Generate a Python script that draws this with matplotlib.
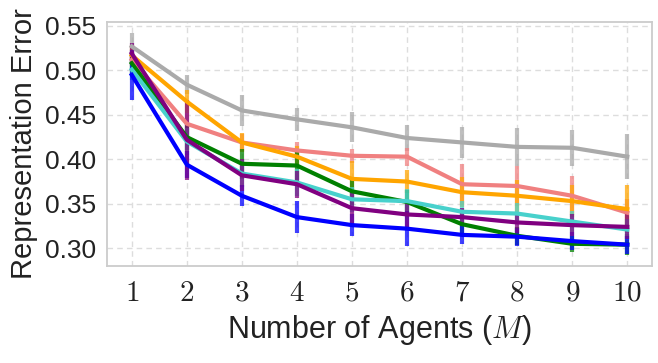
import matplotlib
matplotlib.use("Agg")
import matplotlib.pyplot as plt
import numpy as np

agents = [1, 2, 3, 4, 5, 6, 7, 8, 9, 10]

grey_mean = [0.527, 0.484, 0.455, 0.445, 0.436, 0.424, 0.419, 0.414, 0.413, 0.403]
grey_err = [0.015, 0.011, 0.017, 0.013, 0.017, 0.015, 0.017, 0.021, 0.020, 0.025]

salmon_mean = [0.512, 0.440, 0.419, 0.410, 0.404, 0.403, 0.372, 0.370, 0.359, 0.340]
salmon_err = [0.012, 0.012, 0.010, 0.010, 0.008, 0.010, 0.023, 0.022, 0.022, 0.015]

orange_mean = [0.517, 0.465, 0.419, 0.403, 0.378, 0.375, 0.363, 0.359, 0.353, 0.344]
orange_err = [0.012, 0.013, 0.011, 0.012, 0.020, 0.013, 0.017, 0.018, 0.018, 0.027]

green_mean = [0.508, 0.425, 0.395, 0.393, 0.364, 0.352, 0.327, 0.314, 0.305, 0.304]
green_err = [0.012, 0.015, 0.017, 0.016, 0.015, 0.014, 0.012, 0.010, 0.009, 0.012]

turq_mean = [0.501, 0.420, 0.384, 0.374, 0.355, 0.353, 0.341, 0.339, 0.330, 0.321]
turq_err = [0.012, 0.015, 0.015, 0.015, 0.014, 0.014, 0.012, 0.012, 0.012, 0.012]

purple_mean = [0.519, 0.422, 0.382, 0.372, 0.345, 0.338, 0.335, 0.329, 0.326, 0.324]
purple_err = [0.012, 0.045, 0.018, 0.015, 0.020, 0.014, 0.010, 0.012, 0.012, 0.014]

blue_mean = [0.495, 0.394, 0.359, 0.335, 0.326, 0.322, 0.315, 0.313, 0.308, 0.304]
blue_err = [0.028, 0.015, 0.012, 0.018, 0.012, 0.020, 0.010, 0.010, 0.010, 0.010]

series = [
    (grey_mean, grey_err, "#aaaaaa"),
    (salmon_mean, salmon_err, "#f08080"),
    (orange_mean, orange_err, "#ffa500"),
    (green_mean, green_err, "#008000"),
    (turq_mean, turq_err, "#48d1cc"),
    (blue_mean, blue_err, "#0000ff"),
    (purple_mean, purple_err, "#800080"),
]

plt.rcParams["mathtext.fontset"] = "cm"
plt.rcParams["font.family"] = ["Liberation Sans", "DejaVu Sans"]

fig = plt.figure(figsize=(6.58, 3.63), dpi=100)
ax = fig.add_axes([0.1626, 0.2672, 0.8284, 0.6722])

for mean, err, col in series:
    ax.errorbar(agents, mean, yerr=err, fmt="none", ecolor=col, elinewidth=3.0,
                alpha=0.75, capsize=0, zorder=2)
    ax.plot(agents, mean, color=col, lw=3.0, zorder=3)

ax.set_xlim(0.55, 10.45)
ax.set_ylim(0.28, 0.5545)
ax.set_xticks(agents)
ax.set_xticklabels([f"${a}$" for a in agents], fontsize=21, color="#222222")
yt = [0.30, 0.35, 0.40, 0.45, 0.50, 0.55]
ax.set_yticks(yt)
ax.set_yticklabels([f"{v:.2f}" for v in yt], fontsize=19, color="#222222")
ax.grid(True, ls=(0, (4, 3)), color="#dddddd", lw=1.0)
ax.set_axisbelow(True)
for s in ax.spines.values():
    s.set_color("#cccccc")
    s.set_linewidth(1.3)
ax.tick_params(axis="x", length=0, pad=9)
ax.tick_params(axis="y", length=0, pad=8)
ax.set_xlabel("Number of Agents ($M$)", fontsize=22, labelpad=5, color="#222222")
ax.set_ylabel("Representation Error", fontsize=21, labelpad=5, color="#222222")

fig.savefig("out.png", dpi=100)
